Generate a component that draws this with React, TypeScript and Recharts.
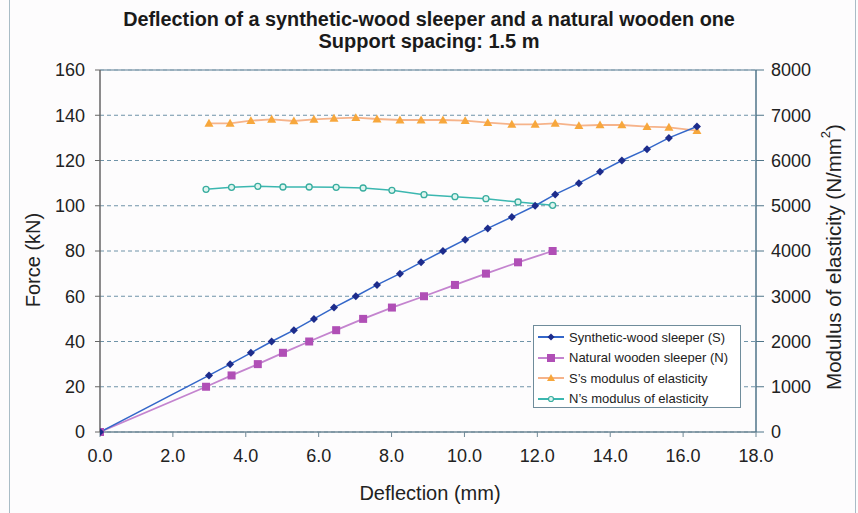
import React from 'react';
import { LineChart, Line, XAxis, YAxis, CartesianGrid, ReferenceLine, Label } from 'recharts';

const xTicks = [0, 2, 4, 6, 8, 10, 12, 14, 16, 18];
const forceTicks = [0, 20, 40, 60, 80, 100, 120, 140, 160];
const modTicks = [0, 1000, 2000, 3000, 4000, 5000, 6000, 7000, 8000];

const synDeflection = [0, 2.99, 3.57, 4.14, 4.71, 5.32, 5.87, 6.42, 7.02, 7.6, 8.23, 8.81, 9.41, 10.02, 10.64, 11.3, 11.94, 12.49, 13.14, 13.72, 14.32, 15.01, 15.61, 16.38];
const synForce = [0, 25, 30, 35, 40, 45, 50, 55, 60, 65, 70, 75, 80, 85, 90, 95, 100, 105, 110, 115, 120, 125, 130, 135];
const natDeflection = [0, 2.91, 3.61, 4.33, 5.02, 5.74, 6.48, 7.22, 8.01, 8.89, 9.74, 10.59, 11.47, 12.42];
const natForce = [0, 20, 25, 30, 35, 40, 45, 50, 55, 60, 65, 70, 75, 80];
const synModulus = [6822, 6822, 6880, 6910, 6873, 6910, 6932, 6946, 6917, 6895, 6895, 6895, 6880, 6835, 6800, 6800, 6822, 6770, 6785, 6785, 6747, 6733, 6659];
const natModulus = [5363, 5408, 5430, 5414, 5414, 5408, 5392, 5341, 5244, 5200, 5156, 5083, 5010];

const seriesNames = [
  'Synthetic-wood sleeper (S)',
  'Natural wooden sleeper (N)',
  "S\u2019s modulus of elasticity",
  "N\u2019s modulus of elasticity",
];

const synData = synDeflection.map((x, i) => ({ x, y: synForce[i] }));
const natData = natDeflection.map((x, i) => ({ x, y: natForce[i] }));
const synModData = synModulus.map((y, i) => ({ x: synDeflection[i + 1], y }));
const natModData = natModulus.map((y, i) => ({ x: natDeflection[i + 1], y }));

const C = {
  synLine: '#3467c9',
  synDot: '#1d2c8c',
  natLine: '#c484cf',
  natDot: '#b04fb6',
  sModLine: '#f6b38a',
  sModDot: '#f7a73c',
  nModLine: '#3bb7b0',
  nModDot: '#39ad9f',
};

const FONT = '"Liberation Sans", Arial, sans-serif';

const diamondPath = (cx: number, cy: number, r: number) => `M${cx},${cy - r}L${cx + r},${cy}L${cx},${cy + r}L${cx - r},${cy}Z`;
const trianglePath = (cx: number, cy: number, r: number) => `M${cx},${cy - r}L${cx + r},${cy + r * 0.75}L${cx - r},${cy + r * 0.75}Z`;

const SynDot = (p: any) => {
  if (p.cx == null) return <g key={`sd${p.index}`} />;
  return <path key={`sd${p.index}`} d={diamondPath(p.cx, p.cy, 4)} fill={C.synDot} />;
};
const NatDot = (p: any) => {
  if (p.cx == null) return <g key={`nd${p.index}`} />;
  return <rect key={`nd${p.index}`} x={p.cx - 4} y={p.cy - 4} width={8} height={8} fill={C.natDot} />;
};
const SModDot = (p: any) => {
  if (p.cx == null) return <g key={`smd${p.index}`} />;
  return <path key={`smd${p.index}`} d={trianglePath(p.cx, p.cy, 4.5)} fill={C.sModDot} />;
};
const NModDot = (p: any) => {
  if (p.cx == null) return <g key={`nmd${p.index}`} />;
  return <circle key={`nmd${p.index}`} cx={p.cx} cy={p.cy} r={3} fill="#dff5f0" stroke={C.nModDot} strokeWidth={1.3} />;
};

const LegendIcon = ({ kind }: { kind: number }) => {
  const lineColors = [C.synLine, C.natLine, C.sModLine, C.nModLine];
  return (
    <svg width={28} height={14} style={{ display: 'block' }}>
      <line x1={1} y1={7} x2={27} y2={7} stroke={lineColors[kind]} strokeWidth={2} />
      {kind === 0 && <path d={diamondPath(14, 7, 3.5)} fill={C.synDot} />}
      {kind === 1 && <rect x={10} y={3} width={8} height={8} fill={C.natDot} />}
      {kind === 2 && <path d={trianglePath(14, 7, 4)} fill={C.sModDot} />}
      {kind === 3 && <circle cx={14} cy={7} r={2.5} fill="#dff5f0" stroke={C.nModDot} strokeWidth={1.2} />}
    </svg>
  );
};

const RightLabel = () => {
  const cx = 833;
  const cy = 257;
  return (
    <text
      x={cx}
      y={cy}
      transform={`rotate(-90, ${cx}, ${cy})`}
      textAnchor="middle"
      dominantBaseline="central"
      fontFamily={FONT}
      fontSize={20.5}
      fill="#222"
    >
      Modulus of elasticity (N/mm<tspan fontSize={13} dy={-8}>2</tspan><tspan dy={8}>)</tspan>
    </text>
  );
};

const LeftLabel = () => {
  const cx = 33;
  const cy = 260;
  return (
    <text
      x={cx}
      y={cy}
      transform={`rotate(-90, ${cx}, ${cy})`}
      textAnchor="middle"
      dominantBaseline="central"
      fontFamily={FONT}
      fontSize={20}
      fill="#222"
    >
      Force (kN)
    </text>
  );
};

const BottomLabel = () => (
  <text x={430} y={500} textAnchor="middle" fontFamily={FONT} fontSize={20} fill="#222">
    Deflection (mm)
  </text>
);

export default function App() {
  return (
    <div style={{ position: 'absolute', left: 0, top: 0, width: 858, height: 513, background: '#fdfcfd', fontFamily: FONT }}>
      <div style={{ position: 'absolute', left: 9, top: 0, width: 0, height: 513, borderLeft: '1.5px solid #a9bcc6' }} />
      <div style={{ position: 'absolute', left: 855, top: 0, width: 0, height: 513, borderLeft: '1.5px solid #a9bcc6' }} />
      <div
        style={{
          position: 'absolute',
          left: 0,
          top: 8,
          width: 858,
          textAlign: 'center',
          fontFamily: FONT,
          fontWeight: 'bold',
          fontSize: 20,
          lineHeight: '22px',
          color: '#1a1a1a',
        }}
      >
        <div style={{ paddingLeft: 0, transform: 'scaleX(0.99)' }}>Deflection of a synthetic-wood sleeper and a natural wooden one</div>
        <div>Support spacing: 1.5 m</div>
      </div>
      <LineChart
        width={858}
        height={513}
        margin={{ top: 70, right: 0, left: 0, bottom: 0 }}
        style={{ position: 'absolute', left: 0, top: 0 }}
      >
        <CartesianGrid yAxisId="force" horizontal vertical={false} stroke="#6f93a8" strokeDasharray="4 3" />
        <XAxis
          type="number"
          dataKey="x"
          domain={[0, 18]}
          ticks={xTicks}
          interval={0}
          allowDataOverflow
          height={81}
          tickSize={5}
          tickMargin={12}
          tickFormatter={(v: number) => v.toFixed(1)}
          tick={{ fontSize: 18, fill: '#222', fontFamily: FONT }}
          axisLine={{ stroke: '#6f8896', strokeWidth: 1.5 }}
          tickLine={{ stroke: '#6f8896' }}
        >
          <Label content={BottomLabel} />
        </XAxis>
        <YAxis
          yAxisId="force"
          type="number"
          domain={[0, 160]}
          ticks={forceTicks}
          interval={0}
          width={100}
          tickSize={5}
          tickMargin={10}
          tick={{ fontSize: 18, fill: '#222', fontFamily: FONT }}
          axisLine={{ stroke: '#666', strokeWidth: 1.5 }}
          tickLine={{ stroke: '#666' }}
        >
          <Label content={LeftLabel} />
        </YAxis>
        <YAxis
          yAxisId="mod"
          orientation="right"
          type="number"
          domain={[0, 8000]}
          ticks={modTicks}
          interval={0}
          width={102}
          tickSize={8}
          tickMargin={7}
          tick={{ fontSize: 18, fill: '#222', fontFamily: FONT }}
          axisLine={{ stroke: '#4f7488', strokeWidth: 1.5 }}
          tickLine={{ stroke: '#4f7488' }}
        >
          <Label content={RightLabel} />
        </YAxis>
        <ReferenceLine yAxisId="force" y={160} stroke="#8ea6b4" strokeWidth={1.5} />
        <Line
          yAxisId="mod"
          data={synModData}
          dataKey="y"
          name={seriesNames[2]}
          stroke={C.sModLine}
          strokeWidth={1.8}
          dot={SModDot}
          isAnimationActive={false}
        />
        <Line
          yAxisId="mod"
          data={natModData}
          dataKey="y"
          name={seriesNames[3]}
          stroke={C.nModLine}
          strokeWidth={1.5}
          dot={NModDot}
          isAnimationActive={false}
        />
        <Line
          yAxisId="force"
          data={natData}
          dataKey="y"
          name={seriesNames[1]}
          stroke={C.natLine}
          strokeWidth={1.8}
          dot={NatDot}
          isAnimationActive={false}
        />
        <Line
          yAxisId="force"
          data={synData}
          dataKey="y"
          name={seriesNames[0]}
          stroke={C.synLine}
          strokeWidth={1.5}
          dot={SynDot}
          isAnimationActive={false}
        />
      </LineChart>
      <div
        style={{
          position: 'absolute',
          left: 533,
          top: 325,
          width: 206,
          height: 80,
          border: '1.5px solid #6f8c9b',
          background: '#fff',
          boxSizing: 'content-box',
          paddingTop: 1,
        }}
      >
        {seriesNames.map((n, i) => (
          <div key={n} style={{ display: 'flex', alignItems: 'center', height: 20.5, paddingLeft: 3 }}>
            <LegendIcon kind={i} />
            <span style={{ marginLeft: 4, fontSize: 13, color: '#222', whiteSpace: 'nowrap' }}>{n}</span>
          </div>
        ))}
      </div>
    </div>
  );
}
